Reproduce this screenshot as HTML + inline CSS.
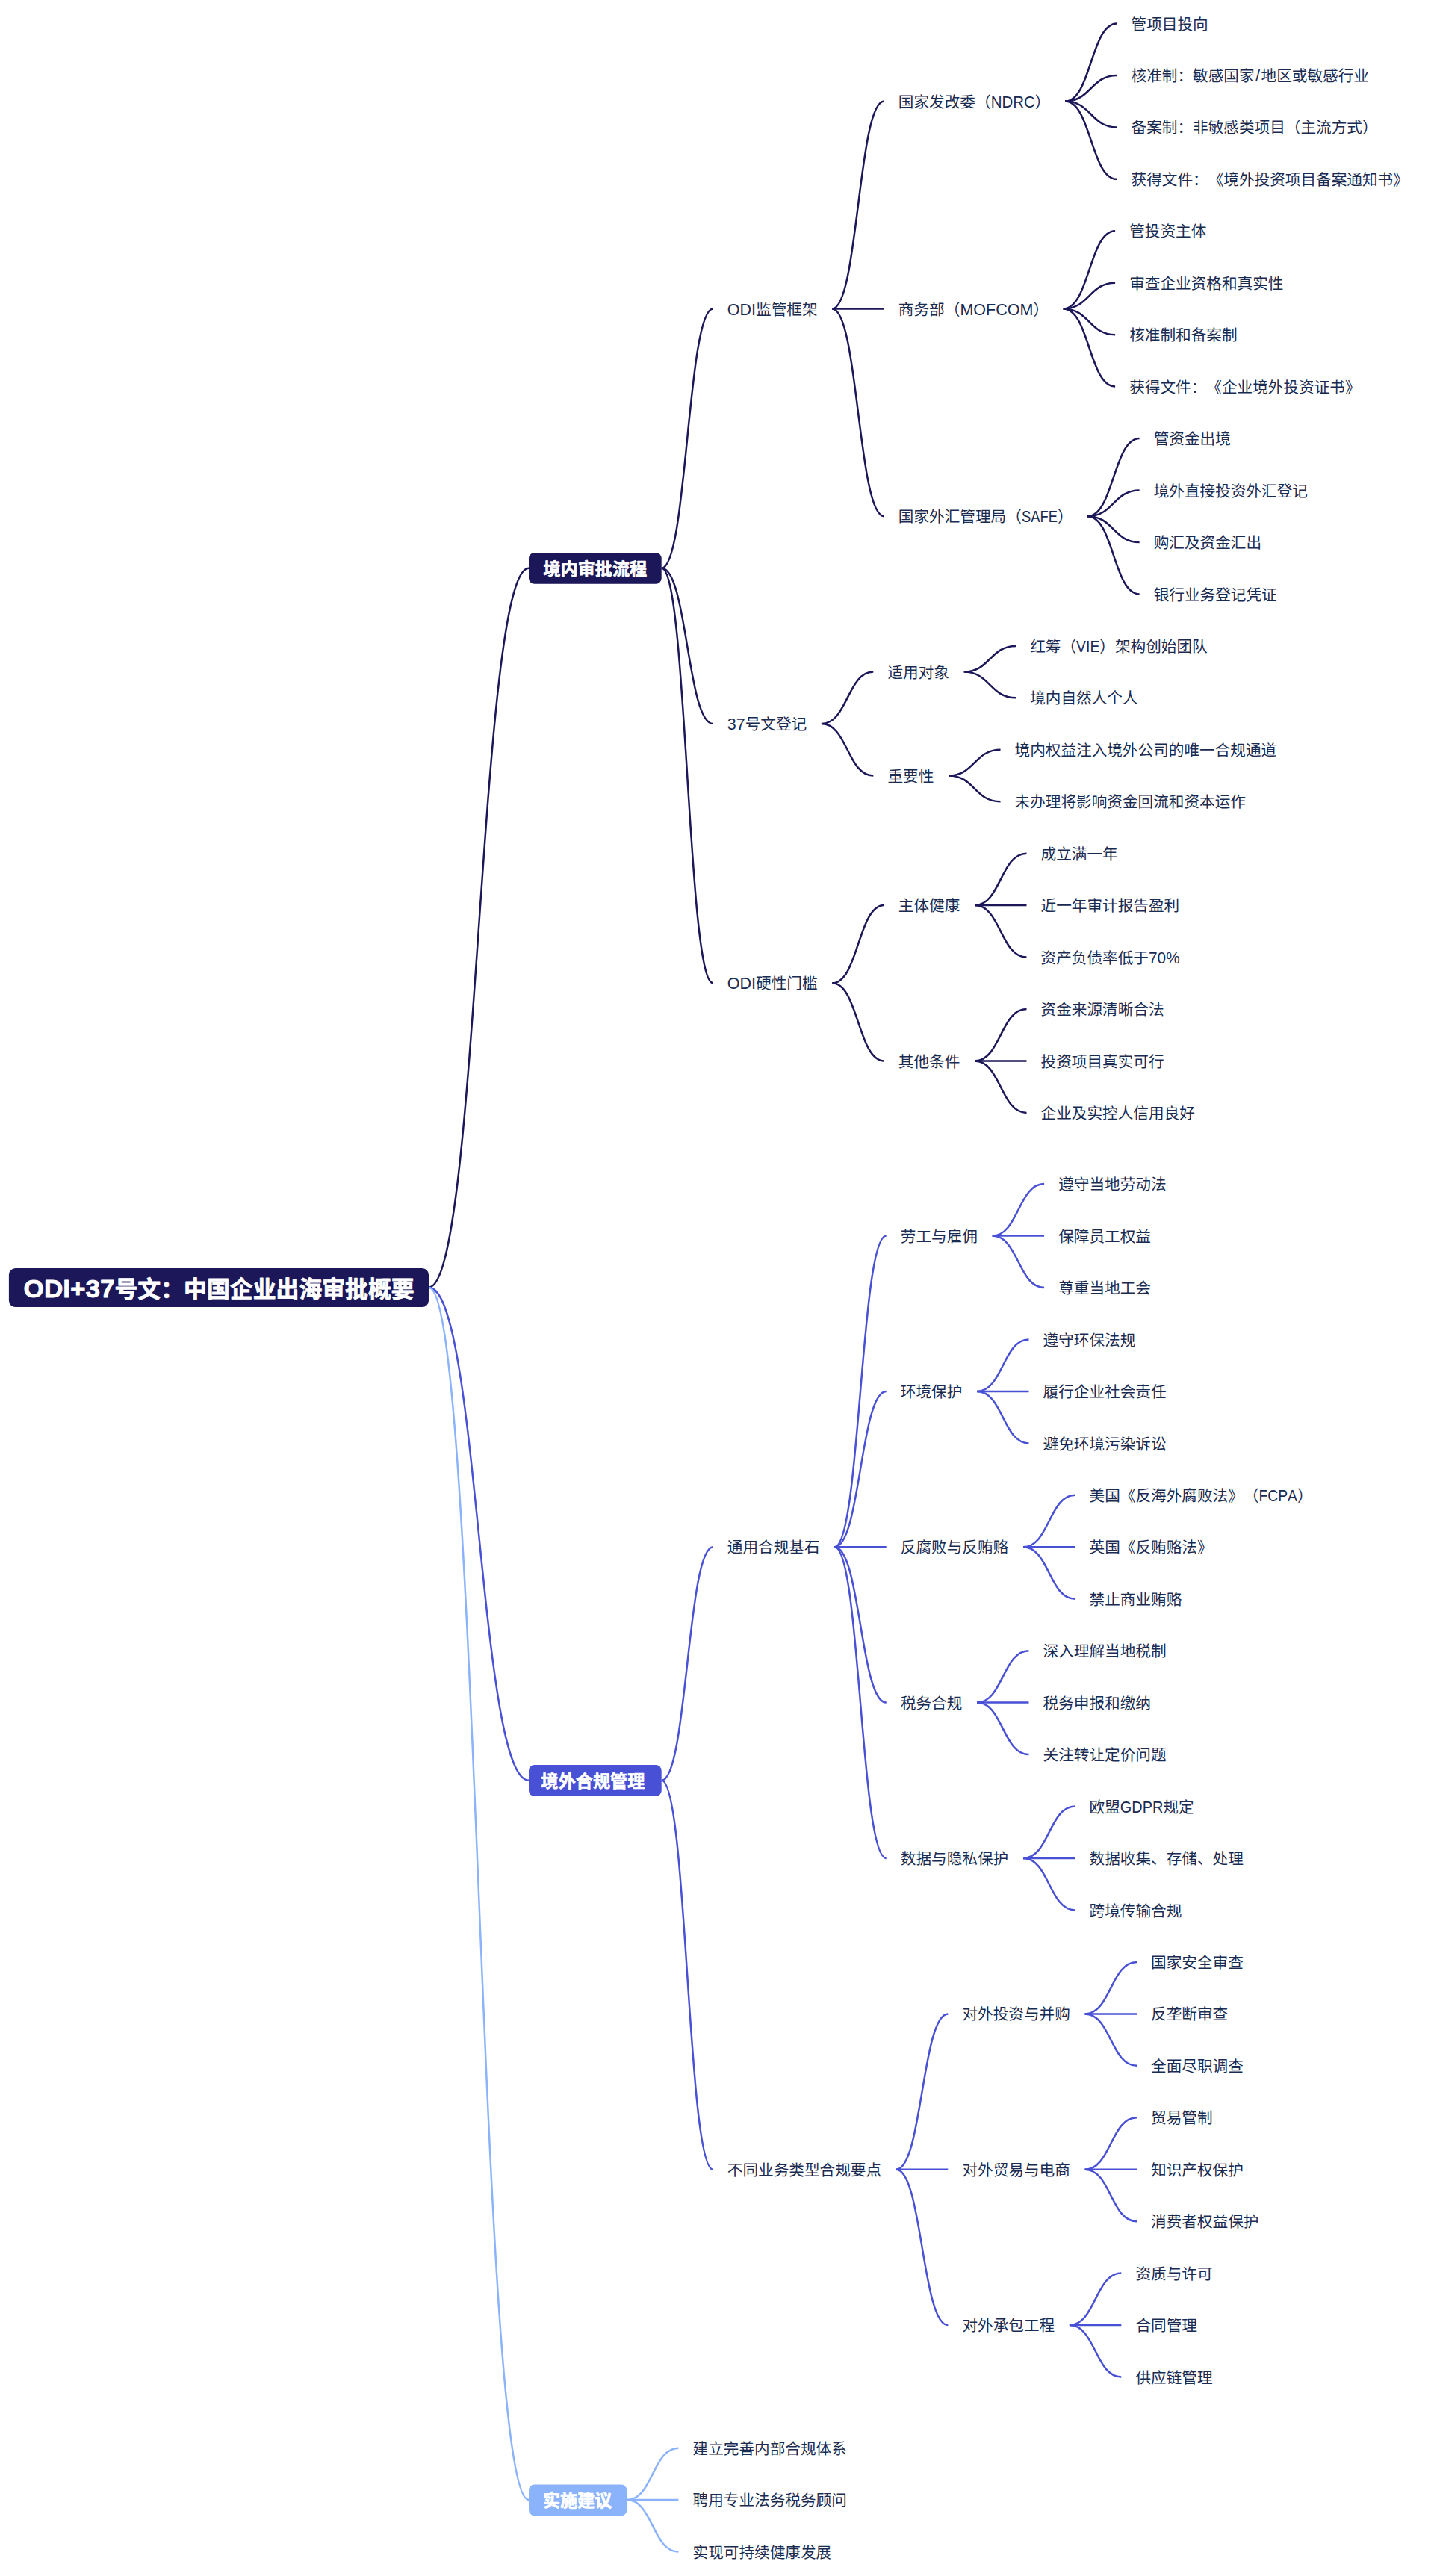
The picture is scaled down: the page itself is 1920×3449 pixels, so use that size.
<!DOCTYPE html>
<html lang="zh-CN"><head><meta charset="utf-8"><title>ODI+37号文：中国企业出海审批概要</title>
<style>
html,body{margin:0;padding:0;background:#fff}
svg{display:block}
text{font-family:"Liberation Sans","Noto Sans CJK SC",sans-serif;text-spacing-trim:space-all;font-kerning:none}
.t{font-size:20.640px;fill:#192b51}
.b{font-size:23.148px;fill:#fff;font-weight:700;stroke:#fff;stroke-width:0.7px;stroke-linejoin:round}
.r{font-size:30.864px;fill:#fff;font-weight:700;stroke:#fff;stroke-width:0.8px;stroke-linejoin:round}
path{fill:none;stroke-width:2.5;stroke-linecap:butt}
</style></head><body>
<svg width="1920" height="3449" viewBox="0 0 1920 3449">
<rect width="1920" height="3449" fill="#fff"/>
<g>
<path d="M574.0 1723.7C641.0 1723.7 641.0 760.7 708.0 760.7" stroke="#1b1758"/>
<path d="M885.7 760.7C920.2 760.7 920.2 413.4 954.7 413.4" stroke="#1b1758"/>
<path d="M1114.3 413.4C1149.0 413.4 1149.0 135.6 1183.7 135.6" stroke="#1b1758"/>
<path d="M1426.0 135.6C1460.7 135.6 1460.7 31.4 1495.4 31.4" stroke="#1b1758"/>
<path d="M1426.0 135.6C1460.7 135.6 1460.7 100.9 1495.4 100.9" stroke="#1b1758"/>
<path d="M1426.0 135.6C1460.7 135.6 1460.7 170.4 1495.4 170.4" stroke="#1b1758"/>
<path d="M1426.0 135.6C1460.7 135.6 1460.7 239.8 1495.4 239.8" stroke="#1b1758"/>
<path d="M1114.3 413.4H1183.7" stroke="#1b1758"/>
<path d="M1423.7 413.4C1458.4 413.4 1458.4 309.3 1493.1 309.3" stroke="#1b1758"/>
<path d="M1423.7 413.4C1458.4 413.4 1458.4 378.7 1493.1 378.7" stroke="#1b1758"/>
<path d="M1423.7 413.4C1458.4 413.4 1458.4 448.2 1493.1 448.2" stroke="#1b1758"/>
<path d="M1423.7 413.4C1458.4 413.4 1458.4 517.6 1493.1 517.6" stroke="#1b1758"/>
<path d="M1114.3 413.4C1149.0 413.4 1149.0 691.2 1183.7 691.2" stroke="#1b1758"/>
<path d="M1456.2 691.2C1490.9 691.2 1490.9 587.1 1525.6 587.1" stroke="#1b1758"/>
<path d="M1456.2 691.2C1490.9 691.2 1490.9 656.5 1525.6 656.5" stroke="#1b1758"/>
<path d="M1456.2 691.2C1490.9 691.2 1490.9 726.0 1525.6 726.0" stroke="#1b1758"/>
<path d="M1456.2 691.2C1490.9 691.2 1490.9 795.4 1525.6 795.4" stroke="#1b1758"/>
<path d="M885.7 760.7C920.2 760.7 920.2 969.1 954.7 969.1" stroke="#1b1758"/>
<path d="M1099.9 969.1C1134.6 969.1 1134.6 899.6 1169.3 899.6" stroke="#1b1758"/>
<path d="M1290.7 899.6C1325.4 899.6 1325.4 864.9 1360.1 864.9" stroke="#1b1758"/>
<path d="M1290.7 899.6C1325.4 899.6 1325.4 934.3 1360.1 934.3" stroke="#1b1758"/>
<path d="M1099.9 969.1C1134.6 969.1 1134.6 1038.5 1169.3 1038.5" stroke="#1b1758"/>
<path d="M1270.1 1038.5C1304.8 1038.5 1304.8 1003.8 1339.5 1003.8" stroke="#1b1758"/>
<path d="M1270.1 1038.5C1304.8 1038.5 1304.8 1073.2 1339.5 1073.2" stroke="#1b1758"/>
<path d="M885.7 760.7C920.2 760.7 920.2 1316.3 954.7 1316.3" stroke="#1b1758"/>
<path d="M1114.3 1316.3C1149.0 1316.3 1149.0 1212.1 1183.7 1212.1" stroke="#1b1758"/>
<path d="M1305.1 1212.1C1339.8 1212.1 1339.8 1142.7 1374.5 1142.7" stroke="#1b1758"/>
<path d="M1305.1 1212.1H1374.5" stroke="#1b1758"/>
<path d="M1305.1 1212.1C1339.8 1212.1 1339.8 1281.6 1374.5 1281.6" stroke="#1b1758"/>
<path d="M1114.3 1316.3C1149.0 1316.3 1149.0 1420.5 1183.7 1420.5" stroke="#1b1758"/>
<path d="M1305.1 1420.5C1339.8 1420.5 1339.8 1351.0 1374.5 1351.0" stroke="#1b1758"/>
<path d="M1305.1 1420.5H1374.5" stroke="#1b1758"/>
<path d="M1305.1 1420.5C1339.8 1420.5 1339.8 1489.9 1374.5 1489.9" stroke="#1b1758"/>
<path d="M574.0 1723.7C641.0 1723.7 641.0 2383.8 708.0 2383.8" stroke="#4850d6"/>
<path d="M885.7 2383.8C920.2 2383.8 920.2 2071.3 954.7 2071.3" stroke="#4850d6"/>
<path d="M1117.3 2071.3C1152.0 2071.3 1152.0 1654.6 1186.7 1654.6" stroke="#4850d6"/>
<path d="M1328.7 1654.6C1363.4 1654.6 1363.4 1585.1 1398.1 1585.1" stroke="#4850d6"/>
<path d="M1328.7 1654.6H1398.1" stroke="#4850d6"/>
<path d="M1328.7 1654.6C1363.4 1654.6 1363.4 1724.0 1398.1 1724.0" stroke="#4850d6"/>
<path d="M1117.3 2071.3C1152.0 2071.3 1152.0 1862.9 1186.7 1862.9" stroke="#4850d6"/>
<path d="M1308.1 1862.9C1342.8 1862.9 1342.8 1793.5 1377.5 1793.5" stroke="#4850d6"/>
<path d="M1308.1 1862.9H1377.5" stroke="#4850d6"/>
<path d="M1308.1 1862.9C1342.8 1862.9 1342.8 1932.4 1377.5 1932.4" stroke="#4850d6"/>
<path d="M1117.3 2071.3H1186.7" stroke="#4850d6"/>
<path d="M1370.0 2071.3C1404.7 2071.3 1404.7 2001.8 1439.4 2001.8" stroke="#4850d6"/>
<path d="M1370.0 2071.3H1439.4" stroke="#4850d6"/>
<path d="M1370.0 2071.3C1404.7 2071.3 1404.7 2140.7 1439.4 2140.7" stroke="#4850d6"/>
<path d="M1117.3 2071.3C1152.0 2071.3 1152.0 2279.6 1186.7 2279.6" stroke="#4850d6"/>
<path d="M1308.1 2279.6C1342.8 2279.6 1342.8 2210.2 1377.5 2210.2" stroke="#4850d6"/>
<path d="M1308.1 2279.6H1377.5" stroke="#4850d6"/>
<path d="M1308.1 2279.6C1342.8 2279.6 1342.8 2349.1 1377.5 2349.1" stroke="#4850d6"/>
<path d="M1117.3 2071.3C1152.0 2071.3 1152.0 2488.0 1186.7 2488.0" stroke="#4850d6"/>
<path d="M1370.0 2488.0C1404.7 2488.0 1404.7 2418.5 1439.4 2418.5" stroke="#4850d6"/>
<path d="M1370.0 2488.0H1439.4" stroke="#4850d6"/>
<path d="M1370.0 2488.0C1404.7 2488.0 1404.7 2557.4 1439.4 2557.4" stroke="#4850d6"/>
<path d="M885.7 2383.8C920.2 2383.8 920.2 2904.7 954.7 2904.7" stroke="#4850d6"/>
<path d="M1199.9 2904.7C1234.6 2904.7 1234.6 2696.4 1269.3 2696.4" stroke="#4850d6"/>
<path d="M1452.6 2696.4C1487.3 2696.4 1487.3 2626.9 1522.0 2626.9" stroke="#4850d6"/>
<path d="M1452.6 2696.4H1522.0" stroke="#4850d6"/>
<path d="M1452.6 2696.4C1487.3 2696.4 1487.3 2765.8 1522.0 2765.8" stroke="#4850d6"/>
<path d="M1199.9 2904.7H1269.3" stroke="#4850d6"/>
<path d="M1452.6 2904.7C1487.3 2904.7 1487.3 2835.3 1522.0 2835.3" stroke="#4850d6"/>
<path d="M1452.6 2904.7H1522.0" stroke="#4850d6"/>
<path d="M1452.6 2904.7C1487.3 2904.7 1487.3 2974.2 1522.0 2974.2" stroke="#4850d6"/>
<path d="M1199.9 2904.7C1234.6 2904.7 1234.6 3113.1 1269.3 3113.1" stroke="#4850d6"/>
<path d="M1431.9 3113.1C1466.6 3113.1 1466.6 3043.6 1501.3 3043.6" stroke="#4850d6"/>
<path d="M1431.9 3113.1H1501.3" stroke="#4850d6"/>
<path d="M1431.9 3113.1C1466.6 3113.1 1466.6 3182.5 1501.3 3182.5" stroke="#4850d6"/>
<path d="M574.0 1723.7C641.0 1723.7 641.0 3347.1 708.0 3347.1" stroke="#8bb3fb"/>
<path d="M839.4 3347.1C873.9 3347.1 873.9 3277.7 908.4 3277.7" stroke="#8bb3fb"/>
<path d="M839.4 3347.1H908.4" stroke="#8bb3fb"/>
<path d="M839.4 3347.1C873.9 3347.1 873.9 3416.6 908.4 3416.6" stroke="#8bb3fb"/>
</g>
<g>
<rect x="11.9" y="1698.0" width="562.1" height="52.0" rx="8.8" fill="#1b1758"/>
<rect x="708.0" y="739.9" width="177.7" height="41.9" rx="7.6" fill="#1b1758"/>
<rect x="708.0" y="2363.1" width="177.7" height="41.9" rx="7.6" fill="#4850d6"/>
<rect x="708.0" y="3326.4" width="131.4" height="41.9" rx="7.6" fill="#8bb3fb"/>
</g>
<g>
<text class="r" y="1736.5"><tspan class="l" x="31.6" textLength="121.9" lengthAdjust="spacingAndGlyphs" font-size="33.33">ODI+37</tspan><tspan x="153.5">号文：中国企业出海审批概要</tspan></text>
<text class="b" y="769.8"><tspan x="727.4">境内审批流程</tspan></text>
<text class="t" y="421.5"><tspan class="l" x="973.8" textLength="38.3" lengthAdjust="spacingAndGlyphs" font-size="21.71">ODI</tspan><tspan x="1012.1">监管框架</tspan></text>
<text class="t" y="143.7"><tspan x="1202.8">国家发改委（</tspan><tspan class="l" x="1326.7" textLength="59.0" lengthAdjust="spacingAndGlyphs" font-size="21.71">NDRC</tspan><tspan x="1385.7">）</tspan></text>
<text class="t" y="39.5"><tspan x="1514.5">管项目投向</tspan></text>
<text class="t" y="109.0"><tspan x="1514.5">核准制：敏感国家</tspan><tspan class="l" x="1681.1" font-size="21.71">/</tspan><tspan x="1688.5">地区或敏感行业</tspan></text>
<text class="t" y="178.4"><tspan x="1514.5">备案制：非敏感类项目（主流方式）</tspan></text>
<text class="t" y="247.9"><tspan x="1514.5">获得文件：《境外投资项目备案通知书》</tspan></text>
<text class="t" y="421.5"><tspan x="1202.8">商务部（</tspan><tspan class="l" x="1285.4" textLength="98.0" lengthAdjust="spacingAndGlyphs" font-size="21.71">MOFCOM</tspan><tspan x="1383.4">）</tspan></text>
<text class="t" y="317.3"><tspan x="1512.2">管投资主体</tspan></text>
<text class="t" y="386.8"><tspan x="1512.2">审查企业资格和真实性</tspan></text>
<text class="t" y="456.2"><tspan x="1512.2">核准制和备案制</tspan></text>
<text class="t" y="525.7"><tspan x="1512.2">获得文件：《企业境外投资证书》</tspan></text>
<text class="t" y="699.3"><tspan x="1202.8">国家外汇管理局（</tspan><tspan class="l" x="1368.0" textLength="47.9" lengthAdjust="spacingAndGlyphs" font-size="21.71">SAFE</tspan><tspan x="1415.9">）</tspan></text>
<text class="t" y="595.1"><tspan x="1544.7">管资金出境</tspan></text>
<text class="t" y="664.6"><tspan x="1544.7">境外直接投资外汇登记</tspan></text>
<text class="t" y="734.1"><tspan x="1544.7">购汇及资金汇出</tspan></text>
<text class="t" y="803.5"><tspan x="1544.7">银行业务登记凭证</tspan></text>
<text class="t" y="977.1"><tspan class="l" x="973.8" textLength="23.9" lengthAdjust="spacingAndGlyphs" font-size="21.71">37</tspan><tspan x="997.7">号文登记</tspan></text>
<text class="t" y="907.7"><tspan x="1188.4">适用对象</tspan></text>
<text class="t" y="873.0"><tspan x="1379.2">红筹（</tspan><tspan class="l" x="1441.1" textLength="31.2" lengthAdjust="spacingAndGlyphs" font-size="21.71">VIE</tspan><tspan x="1472.3">）架构创始团队</tspan></text>
<text class="t" y="942.4"><tspan x="1379.2">境内自然人个人</tspan></text>
<text class="t" y="1046.6"><tspan x="1188.4">重要性</tspan></text>
<text class="t" y="1011.9"><tspan x="1358.6">境内权益注入境外公司的唯一合规通道</tspan></text>
<text class="t" y="1081.3"><tspan x="1358.6">未办理将影响资金回流和资本运作</tspan></text>
<text class="t" y="1324.4"><tspan class="l" x="973.8" textLength="38.3" lengthAdjust="spacingAndGlyphs" font-size="21.71">ODI</tspan><tspan x="1012.1">硬性门槛</tspan></text>
<text class="t" y="1220.2"><tspan x="1202.8">主体健康</tspan></text>
<text class="t" y="1150.8"><tspan x="1393.6">成立满一年</tspan></text>
<text class="t" y="1220.2"><tspan x="1393.6">近一年审计报告盈利</tspan></text>
<text class="t" y="1289.7"><tspan x="1393.6">资产负债率低于</tspan><tspan class="l" x="1538.1" textLength="41.5" lengthAdjust="spacingAndGlyphs" font-size="21.71">70%</tspan></text>
<text class="t" y="1428.6"><tspan x="1202.8">其他条件</tspan></text>
<text class="t" y="1359.1"><tspan x="1393.6">资金来源清晰合法</tspan></text>
<text class="t" y="1428.6"><tspan x="1393.6">投资项目真实可行</tspan></text>
<text class="t" y="1498.0"><tspan x="1393.6">企业及实控人信用良好</tspan></text>
<text class="b" y="2393.0"><tspan x="724.6">境外合规管理</tspan></text>
<text class="t" y="2079.4"><tspan x="973.8">通用合规基石</tspan></text>
<text class="t" y="1662.7"><tspan x="1205.8">劳工与雇佣</tspan></text>
<text class="t" y="1593.2"><tspan x="1417.2">遵守当地劳动法</tspan></text>
<text class="t" y="1662.7"><tspan x="1417.2">保障员工权益</tspan></text>
<text class="t" y="1732.1"><tspan x="1417.2">尊重当地工会</tspan></text>
<text class="t" y="1871.0"><tspan x="1205.8">环境保护</tspan></text>
<text class="t" y="1801.6"><tspan x="1396.6">遵守环保法规</tspan></text>
<text class="t" y="1871.0"><tspan x="1396.6">履行企业社会责任</tspan></text>
<text class="t" y="1940.5"><tspan x="1396.6">避免环境污染诉讼</tspan></text>
<text class="t" y="2079.4"><tspan x="1205.8">反腐败与反贿赂</tspan></text>
<text class="t" y="2009.9"><tspan x="1458.5">美国《反海外腐败法》（</tspan><tspan class="l" x="1685.5" textLength="51.4" lengthAdjust="spacingAndGlyphs" font-size="21.71">FCPA</tspan><tspan x="1736.9">）</tspan></text>
<text class="t" y="2079.4"><tspan x="1458.5">英国《反贿赂法》</tspan></text>
<text class="t" y="2148.8"><tspan x="1458.5">禁止商业贿赂</tspan></text>
<text class="t" y="2287.7"><tspan x="1205.8">税务合规</tspan></text>
<text class="t" y="2218.3"><tspan x="1396.6">深入理解当地税制</tspan></text>
<text class="t" y="2287.7"><tspan x="1396.6">税务申报和缴纳</tspan></text>
<text class="t" y="2357.2"><tspan x="1396.6">关注转让定价问题</tspan></text>
<text class="t" y="2496.1"><tspan x="1205.8">数据与隐私保护</tspan></text>
<text class="t" y="2426.6"><tspan x="1458.5">欧盟</tspan><tspan class="l" x="1499.8" textLength="57.5" lengthAdjust="spacingAndGlyphs" font-size="21.71">GDPR</tspan><tspan x="1557.3">规定</tspan></text>
<text class="t" y="2496.1"><tspan x="1458.5">数据收集、存储、处理</tspan></text>
<text class="t" y="2565.5"><tspan x="1458.5">跨境传输合规</tspan></text>
<text class="t" y="2912.8"><tspan x="973.8">不同业务类型合规要点</tspan></text>
<text class="t" y="2704.4"><tspan x="1288.4">对外投资与并购</tspan></text>
<text class="t" y="2635.0"><tspan x="1541.1">国家安全审查</tspan></text>
<text class="t" y="2704.4"><tspan x="1541.1">反垄断审查</tspan></text>
<text class="t" y="2773.9"><tspan x="1541.1">全面尽职调查</tspan></text>
<text class="t" y="2912.8"><tspan x="1288.4">对外贸易与电商</tspan></text>
<text class="t" y="2843.3"><tspan x="1541.1">贸易管制</tspan></text>
<text class="t" y="2912.8"><tspan x="1541.1">知识产权保护</tspan></text>
<text class="t" y="2982.2"><tspan x="1541.1">消费者权益保护</tspan></text>
<text class="t" y="3121.1"><tspan x="1288.4">对外承包工程</tspan></text>
<text class="t" y="3051.7"><tspan x="1520.4">资质与许可</tspan></text>
<text class="t" y="3121.1"><tspan x="1520.4">合同管理</tspan></text>
<text class="t" y="3190.6"><tspan x="1520.4">供应链管理</tspan></text>
<text class="b" y="3356.3"><tspan x="727.0">实施建议</tspan></text>
<text class="t" y="3285.8"><tspan x="927.5">建立完善内部合规体系</tspan></text>
<text class="t" y="3355.2"><tspan x="927.5">聘用专业法务税务顾问</tspan></text>
<text class="t" y="3424.7"><tspan x="927.5">实现可持续健康发展</tspan></text>
</g>
</svg>
</body></html>
